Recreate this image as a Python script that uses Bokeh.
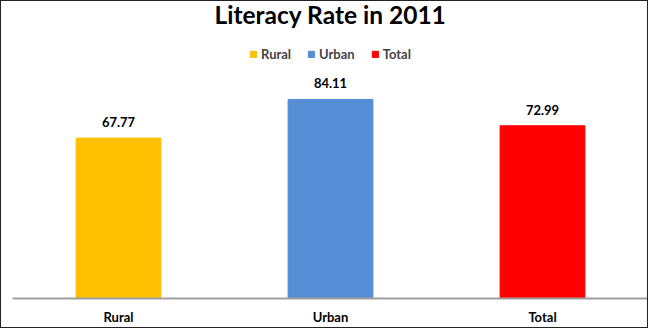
from bokeh.plotting import figure
from bokeh.models import ColumnDataSource, Legend, LegendItem, Label
from bokeh.core.properties import value
from bokeh.embed import file_html
from bokeh.resources import INLINE

categories = ["Rural", "Urban", "Total"]
rates = [67.77, 84.11, 72.99]
colors = ["#FFC000", "#558ED5", "#FF0000"]
labels = ["67.77", "84.11", "72.99"]
title_text = "Literacy Rate in 2011"

FONT = "Lato"

src = ColumnDataSource(dict(cat=categories, val=rates, color=colors, lab=labels))

p = figure(width=648, height=328, x_range=categories, y_range=(0, 125.5),
           output_backend="svg", toolbar_location=None,
           min_border_left=11, min_border_right=1, min_border_top=0, min_border_bottom=31)
p.styles = {"border": "1px solid #222"}

r = p.vbar(x="cat", top="val", width=0.4, color="color", source=src)
p.text(x="cat", y="val", text="lab", source=src, text_align="center",
       text_baseline="bottom", y_offset=-11, text_font=value(FONT),
       text_font_size="13px", text_font_style="bold", text_color="#000000")

p.add_layout(Label(x=318, y=284, x_units="screen", y_units="screen", text=title_text,
                   text_align="center", text_baseline="middle", text_font=FONT,
                   text_font_size="24.5px", text_font_style="bold", text_color="#000000"))

items = [LegendItem(label=c, renderers=[r], index=i) for i, c in enumerate(categories)]
legend = Legend(items=items, orientation="horizontal", location="top_center",
                label_text_font=FONT, label_text_font_size="13px",
                label_text_font_style="bold", glyph_width=8, glyph_height=8,
                label_standoff=4, spacing=16, padding=0, margin=45,
                border_line_color=None, background_fill_alpha=0)
p.add_layout(legend, "center")

p.yaxis.visible = False
p.xgrid.grid_line_color = None
p.ygrid.grid_line_color = None
p.outline_line_color = None
p.xaxis.major_tick_line_color = None
p.xaxis.minor_tick_line_color = None
p.xaxis.axis_line_color = "#A0A0A0"
p.xaxis.axis_line_width = 2
p.xaxis.major_label_text_font = FONT
p.xaxis.major_label_text_font_size = "13px"
p.xaxis.major_label_text_font_style = "bold"
p.xaxis.major_label_text_color = "#000000"
p.xaxis.major_label_standoff = 4
p.x_range.range_padding = 0

open("out.html", "w").write(file_html(p, INLINE))
